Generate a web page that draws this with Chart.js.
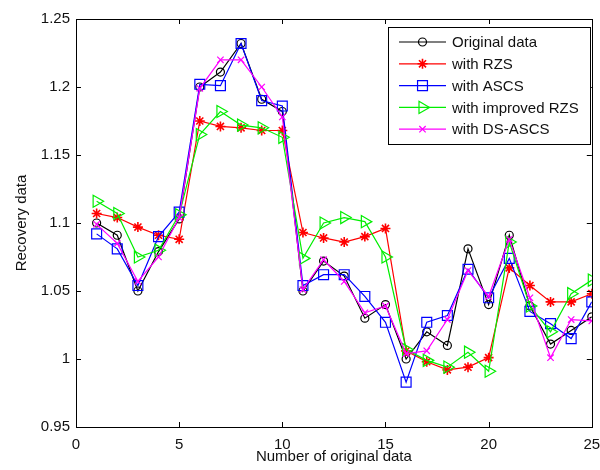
<!DOCTYPE html>
<html>
<head>
<meta charset="utf-8">
<script src="https://cdn.jsdelivr.net/npm/chart.js@4.4.0/dist/chart.umd.min.js"></script>
<style>
  html, body { margin: 0; padding: 0; background: #fff; }
  #wrap { width: 600px; height: 470px; }
</style>
</head>
<body>
<div id="wrap"><canvas id="recoveryChart" width="600" height="470"></canvas></div>
<script>
"use strict";

// sample index (number of original data)
var sampleNo = [1, 2, 3, 4, 5, 6, 7, 8, 9, 10, 11, 12, 13, 14, 15, 16, 17, 18, 19, 20, 21, 22, 23, 24, 25];

var originalData = [1.100, 1.091, 1.050, 1.079, 1.103, 1.200, 1.211, 1.232, 1.191, 1.182, 1.050, 1.072, 1.061, 1.030, 1.040,
                    1.000, 1.020, 1.010, 1.081, 1.040, 1.091, 1.039, 1.011, 1.021, 1.031];
var withRZS      = [1.107, 1.104, 1.097, 1.091, 1.088, 1.175, 1.171, 1.170, 1.168, 1.168, 1.093, 1.089, 1.086, 1.090, 1.096,
                    1.006, 0.998, 0.992, 0.994, 1.001, 1.067, 1.054, 1.042, 1.042, 1.048];
var withASCS     = [1.092, 1.081, 1.054, 1.090, 1.108, 1.202, 1.201, 1.232, 1.190, 1.186, 1.054, 1.062, 1.062, 1.046, 1.027,
                    0.983, 1.027, 1.032, 1.066, 1.045, 1.074, 1.035, 1.026, 1.015, 1.042];
var withImpRZS   = [1.116, 1.107, 1.075, 1.080, 1.106, 1.165, 1.182, 1.172, 1.170, 1.163, 1.074, 1.100, 1.104, 1.101, 1.075,
                    1.007, 0.999, 0.994, 1.005, 0.991, 1.086, 1.039, 1.020, 1.048, 1.058];
var withDSASCS   = [1.099, 1.085, 1.057, 1.075, 1.104, 1.199, 1.220, 1.220, 1.200, 1.178, 1.051, 1.073, 1.057, 1.034, 1.039,
                    1.004, 1.006, 1.029, 1.065, 1.046, 1.088, 1.045, 1.001, 1.029, 1.028];

var xTicks = [0, 5, 10, 15, 20, 25];
var yTicks = [0.95, 1, 1.05, 1.1, 1.15, 1.2, 1.25];

var FONT = '"Liberation Sans", Arial, sans-serif';
var TEXT = '#111';

function pts(values) {
    return values.map(function (v, i) { return { x: sampleNo[i], y: v }; });
}

function series(label, values, color, style, radius, rotation, markerWidth, order) {
    return {
        label: label,
        data: pts(values),
        borderColor: color,
        backgroundColor: color,
        borderWidth: 1.2,
        pointStyle: style,
        pointRadius: radius,
        pointRotation: rotation,
        pointBorderColor: color,
        pointBackgroundColor: 'rgba(0,0,0,0)',
        pointBorderWidth: markerWidth,
        tension: 0,
        order: order
    };
}

// box round the plot area, inward tick marks and the legend
var frame = {
    id: 'frame',
    afterDatasetsDraw: function (chart) {
        var ctx = chart.ctx, a = chart.chartArea;
        var xs = chart.scales.x, ys = chart.scales.y;
        ctx.save();
        ctx.strokeStyle = '#000';
        ctx.lineWidth = 1;
        ctx.strokeRect(Math.round(a.left) + 0.5, Math.round(a.top) + 0.5,
                       Math.round(a.right - a.left), Math.round(a.bottom - a.top));
        ctx.beginPath();
        xTicks.forEach(function (t) {
            var px = Math.round(xs.getPixelForValue(t)) + 0.5;
            ctx.moveTo(px, a.bottom); ctx.lineTo(px, a.bottom - 5);
            ctx.moveTo(px, a.top); ctx.lineTo(px, a.top + 5);
        });
        yTicks.forEach(function (t) {
            var py = Math.round(ys.getPixelForValue(t)) + 0.5;
            ctx.moveTo(a.left, py); ctx.lineTo(a.left + 5, py);
            ctx.moveTo(a.right, py); ctx.lineTo(a.right - 5, py);
        });
        ctx.stroke();

        // legend
        var bx = 388.5, by = 27.5, bw = 202, bh = 117;
        ctx.fillStyle = '#fff';
        ctx.fillRect(bx, by, bw, bh);
        ctx.strokeRect(bx, by, bw, bh);
        ctx.font = '15px ' + FONT;
        ctx.textBaseline = 'middle';
        ctx.textAlign = 'left';
        chart.data.datasets.forEach(function (ds, i) {
            var y = 42 + i * 21.8;
            ctx.strokeStyle = ds.borderColor;
            ctx.lineWidth = ds.borderWidth;
            ctx.beginPath();
            ctx.moveTo(399, y); ctx.lineTo(446, y);
            ctx.stroke();
            ctx.fillStyle = 'rgba(0,0,0,0)';
            ctx.lineWidth = ds.pointBorderWidth;
            Chart.helpers.drawPoint(ctx, {
                pointStyle: ds.pointStyle,
                radius: ds.pointRadius,
                rotation: ds.pointRotation,
                borderWidth: ds.pointBorderWidth
            }, 422.5, y);
            ctx.fillStyle = TEXT;
            ctx.fillText(ds.label, 452, y + 1);
        });
        ctx.restore();
    }
};

var ctx = document.getElementById('recoveryChart');
var recoveryChart = new Chart(ctx, {
    type: 'line',
    data: {
        datasets: [
            series('Original data', originalData, '#000000', 'circle', 4, 0, 1.2, 5),
            series('with RZS', withRZS, '#ff0000', 'star', 5, 0, 1.6, 4),
            series('with ASCS', withASCS, '#0000ff', 'rect', 7, 0, 1.2, 3),
            series('with improved RZS', withImpRZS, '#00ee00', 'triangle', 7, 90, 1.2, 2),
            series('with DS-ASCS', withDSASCS, '#ff00ff', 'crossRot', 4.5, 0, 1.2, 1)
        ]
    },
    options: {
        responsive: false,
        animation: false,
        events: [],
        layout: { padding: { left: 0, right: 6, top: 19, bottom: 0 } },
        plugins: {
            legend: { display: false },
            tooltip: { enabled: false }
        },
        scales: {
            x: {
                type: 'linear',
                min: 0,
                max: 25,
                grid: { display: false, drawTicks: false },
                border: { display: false },
                afterBuildTicks: function (s) { s.ticks = xTicks.map(function (v) { return { value: v }; }); },
                afterFit: function (s) { s.height = 43; s.paddingLeft = 0; s.paddingRight = 0; },
                ticks: {
                    padding: 9,
                    maxRotation: 0,
                    autoSkip: false,
                    color: TEXT,
                    font: { family: FONT, size: 15 },
                    callback: function (v) { return String(v); }
                },
                title: {
                    display: true,
                    text: 'Number of original data',
                    color: TEXT,
                    font: { family: FONT, size: 15 },
                    padding: { top: 0, bottom: 4 }
                }
            },
            y: {
                type: 'linear',
                min: 0.95,
                max: 1.25,
                grid: { display: false, drawTicks: false },
                border: { display: false },
                afterBuildTicks: function (s) { s.ticks = yTicks.map(function (v) { return { value: v }; }); },
                afterFit: function (s) { s.width = 76; s.paddingTop = 0; s.paddingBottom = 0; },
                ticks: {
                    padding: 6,
                    autoSkip: false,
                    color: TEXT,
                    font: { family: FONT, size: 15 },
                    callback: function (v) { return String(+v.toFixed(2)); }
                },
                title: {
                    display: true,
                    text: 'Recovery data',
                    color: TEXT,
                    font: { family: FONT, size: 15 },
                    padding: { top: 13, bottom: 0 }
                }
            }
        }
    },
    plugins: [frame]
});
</script>
</body>
</html>
